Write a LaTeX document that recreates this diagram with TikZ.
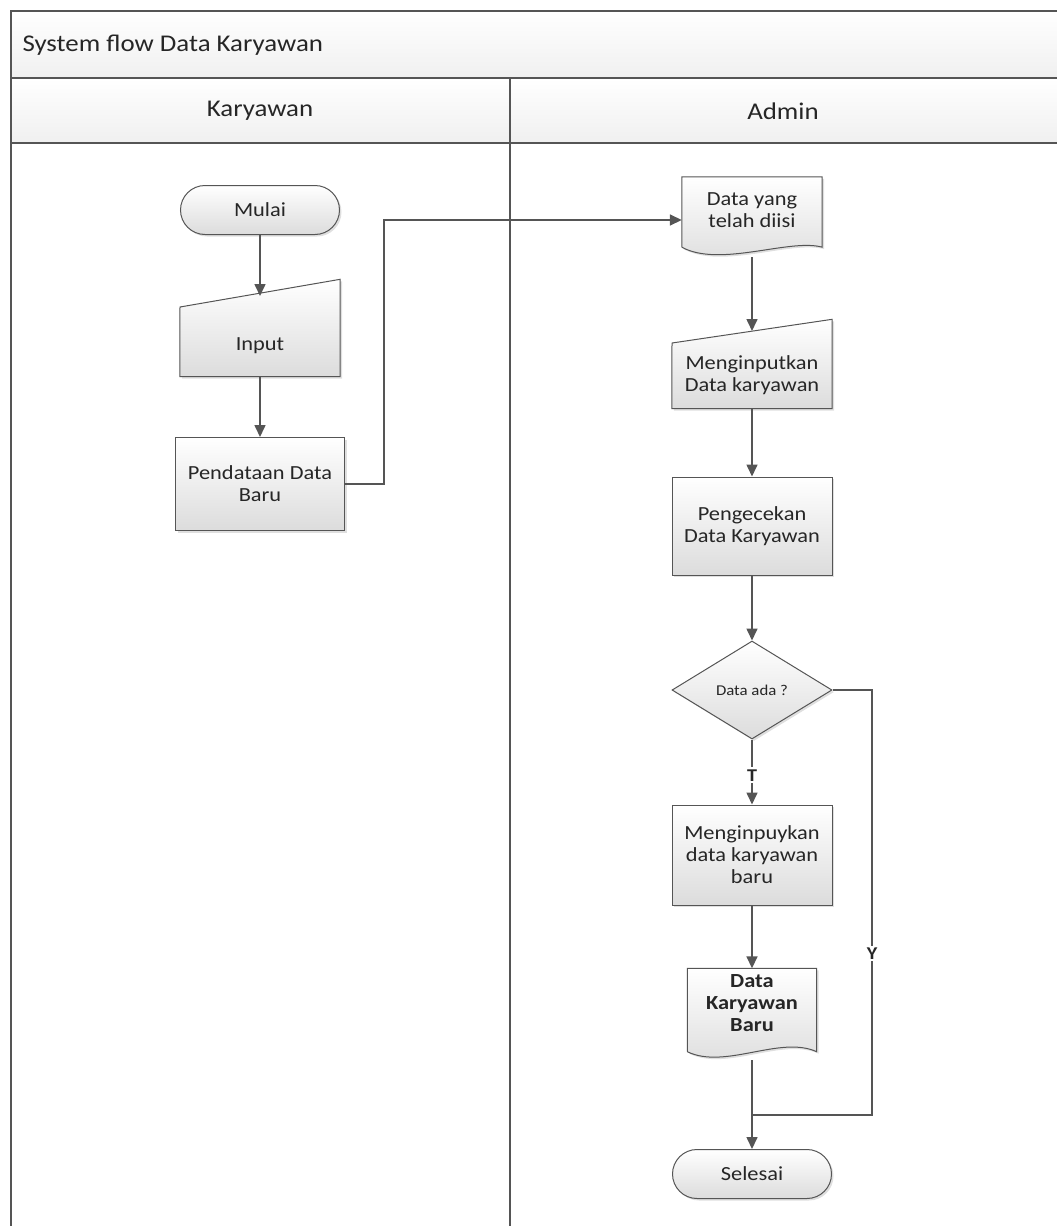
\documentclass[tikz,border=0pt]{standalone}
\usepackage{fontspec}
\setmainfont[FakeStretch=1.12]{Carlito}
\usetikzlibrary{arrows.meta,shapes.geometric,shapes.misc,shadows}
\definecolor{lineC}{HTML}{555555}
\definecolor{fillB}{HTML}{DCDCDC}
\tikzset{
  every node/.style={font=\fontsize{20}{22}\selectfont, text=black!85},
  headtext/.style={font=\fontsize{24}{26}\selectfont},
  labtext/.style={fill=white, inner xsep=1pt, inner ysep=2pt, font=\fontsize{18}{20}\selectfont\bfseries},
  shapefill/.style={top color=white, bottom color=fillB, draw=lineC, line width=1pt,
     drop shadow={shadow xshift=2pt, shadow yshift=-2pt, opacity=0.25}},
  termbox/.style={shapefill, rounded rectangle, minimum width=159pt, minimum height=49pt, inner sep=0pt},
  procbox/.style={shapefill, rectangle, align=center, inner sep=0pt},
  decbox/.style={shapefill, diamond, aspect=1.63, minimum width=160pt, minimum height=98pt, inner sep=0pt},
  holder/.style={draw=none, fill=none, align=center, inner sep=0pt},
  conn/.style={draw=lineC, line width=1.6pt},
  arr/.style={conn, -{Triangle[width=11pt,length=12pt]}},
  lane/.style={draw=lineC, line width=1.2pt},
}
\begin{document}
\begin{tikzpicture}[x=1pt,y=-1pt]
\useasboundingbox (0,0) rectangle (1057,1226);
% swimlane frame
\shade[top color=white, bottom color=gray!12] (11,11) rectangle (1060,78);
\shade[top color=white, bottom color=gray!12] (11,78) rectangle (1060,143);
\draw[lane] (1060,11) -- (11,11) -- (11,1230);
\draw[lane] (11,78) -- (1060,78);
\draw[lane] (11,143) -- (1060,143);
\draw[lane] (510,78) -- (510,1230);
\node[anchor=west, headtext] (title) at (19,45) {System flow Data Karyawan};
\node[headtext] (laneK) at (260,111) {Karyawan};
\node[headtext] (laneA) at (783,111) {Admin};

% Karyawan lane
\node[termbox] (mulai) at (260,210) {Mulai};
\node[holder, minimum width=160pt, minimum height=97pt] (input) at (260,328) {};
\shade[shapefill] (input.south west) -- (180,307) -- (input.north east) -- (input.south east) -- cycle;
\node at (260,346) {Input};
\node[procbox, minimum width=169pt, minimum height=93pt] (pend) at (260,484) {Pendataan Data\\Baru};

% Admin lane
\node[holder, minimum width=140pt, minimum height=70pt] (dyang) at (752,212) {};
\shade[shapefill] (dyang.south west) -- (dyang.north west) -- (dyang.north east) -- (dyang.south east)
  .. controls (790,238) and (720,268) .. (dyang.south west);
\node[align=center] at (752,210) {Data yang\\telah diisi};

\node[holder, minimum width=160pt, minimum height=89pt] (minp) at (752,364) {};
\shade[shapefill] (minp.south west) -- (672,343) -- (minp.north east) -- (minp.south east) -- cycle;
\node[align=center] at (752,375) {Menginputkan\\Data karyawan};

\node[procbox, minimum width=160pt, minimum height=98pt] (cek) at (752,526) {Pengecekan\\Data Karyawan};
\node[decbox] (dec) at (752,690) {\fontsize{15}{17}\selectfont Data ada ?};
\node[procbox, minimum width=160pt, minimum height=100pt] (mbaru) at (752,855) {Menginpuykan\\data karyawan\\baru};

\node[holder, minimum width=129pt, minimum height=83pt] (dkb) at (752,1010) {};
\shade[shapefill] (dkb.south west) -- (dkb.north west) -- (dkb.north east) -- (dkb.south east)
  .. controls (780,1035) and (725,1070) .. (dkb.south west);
\node[align=center, font=\fontsize{20}{22}\selectfont\bfseries] at (752,1003) {Data\\Karyawan\\Baru};

\node[termbox] (selesai) at (752,1174) {Selesai};

% connectors
\draw[arr] (mulai) -- (input.north |- 0,296);
\draw[arr] (input.south) -- (pend.north);
\draw[arr] (pend.east) -- (384,484) -- (384,220) -- (dyang.west |- 0,220);
\draw[arr] (dyang.south |- 0,257) -- (752,331);
\draw[arr] (minp.south) -- (cek.north);
\draw[arr] (cek.south) -- (dec.north);
\draw[arr] (dec.south) -- node[labtext, pos=0.55] (tlab) {T} (mbaru.north);
\draw[arr] (mbaru.south) -- (dkb.north);
\coordinate (join) at (752,1115);
\draw[arr] (752,1060) -- (selesai.north);
\draw[conn] (dec.east) -- (872,690) -- node[pos=0.62, labtext] (ylab) {Y} (872,1115) -- (join);
\end{tikzpicture}
\end{document}
